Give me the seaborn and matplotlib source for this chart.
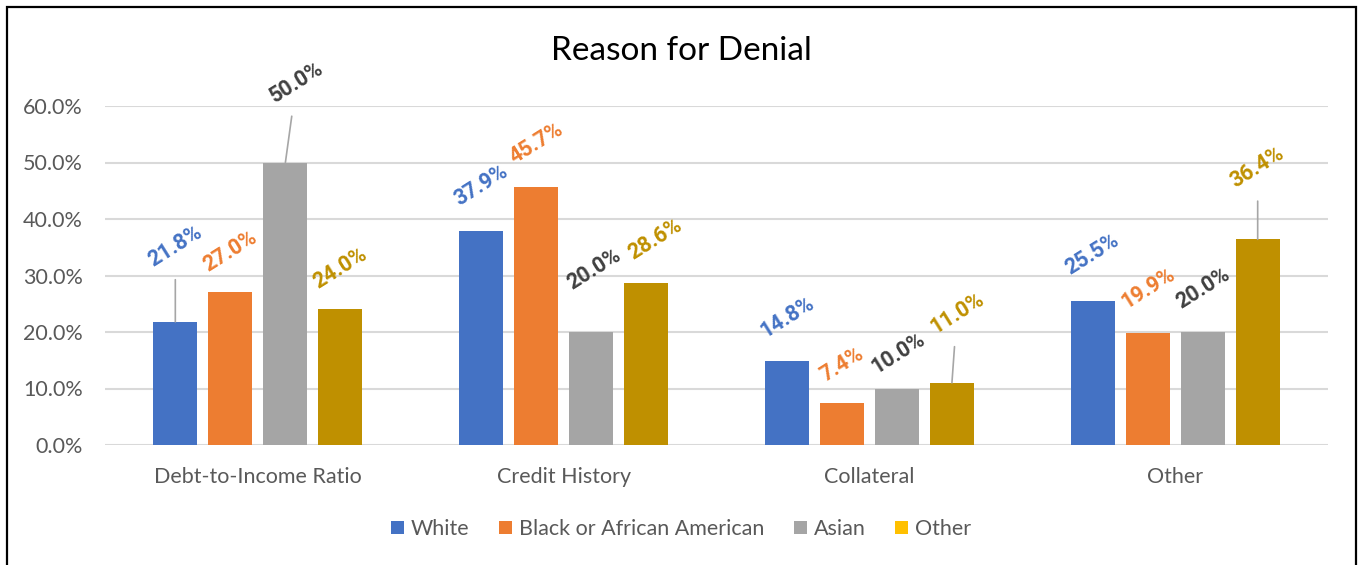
import matplotlib
matplotlib.use("Agg")
import matplotlib.pyplot as plt
from matplotlib.patches import Patch, Rectangle
from matplotlib.ticker import PercentFormatter
import seaborn as sns
import pandas as pd

# Share of denials by reason, per applicant race (percent)
reasons = ["Debt-to-Income Ratio", "Credit History", "Collateral", "Other"]
races = ["White", "Black or African American", "Asian", "Other"]
white = [21.8, 37.9, 14.8, 25.5]
black = [27.0, 45.7, 7.4, 19.9]
asian = [50.0, 20.0, 10.0, 20.0]
other = [24.0, 28.6, 11.0, 36.4]
y_ticks = [0, 10, 20, 30, 40, 50, 60]

series = [white, black, asian, other]
df = pd.DataFrame({
    "reason": [r for s in series for r in reasons],
    "race": [race for race, s in zip(races, series) for _ in s],
    "pct": [v for s in series for v in s],
})

bar_colors = ["#4472C4", "#ED7D31", "#A5A5A5", "#BF9000"]
label_colors = ["#4472C4", "#ED7D31", "#404040", "#BF9000"]
legend_colors = ["#4472C4", "#ED7D31", "#A5A5A5", "#FFC000"]

# label placement (dx, dy in pixels from the bar top) and leader-line flags
label_offsets = [
    [(0, 76), (0, 46), (0, 44), (0, 47)],
    [(0, 41), (0, 44), (0, 39), (0, 44)],
    [(11, 80), (3, 63), (1, 35), (0, 44)],
    [(0, 41), (9, 44), (5, 70), (0, 72)],
]
leaders = [
    [True, False, False, False],
    [False, False, False, False],
    [True, False, False, False],
    [False, False, True, True],
]

sns.set_theme(style="white")
plt.rcParams["font.family"] = ["Lato", "DejaVu Sans"]

fig = plt.figure(figsize=(13.62, 5.65), dpi=100)
ax = fig.add_axes([105 / 1362, 1 - 445 / 565, (1328 - 105) / 1362, (445 - 106) / 565])

sns.barplot(data=df, x="reason", y="pct", hue="race", order=reasons,
            hue_order=races, palette=bar_colors, width=0.72, gap=0.2,
            saturation=1, ax=ax, legend=False, linewidth=0)

ax.set_xlim(-0.5, len(reasons) - 0.5)
ax.set_ylim(0, 60)
ax.set_yticks(y_ticks)
ax.yaxis.set_major_formatter(PercentFormatter(decimals=1))
ax.grid(axis="y", color="#D9D9D9", linewidth=1.5)
ax.set_axisbelow(True)
for sp in ax.spines.values():
    sp.set_visible(False)
ax.set_xlabel("")
ax.set_ylabel("")
ax.tick_params(axis="y", labelsize=15.5, labelcolor="#595959", pad=16, length=0)
ax.tick_params(axis="x", labelsize=15.5, labelcolor="#595959", pad=16, length=0)

for hi, cont in enumerate(ax.containers):
    for ci, bar in enumerate(cont.patches):
        x = bar.get_x() + bar.get_width() / 2
        h = bar.get_height()
        dx, dy = label_offsets[hi][ci]
        arrow = None
        if leaders[hi][ci]:
            arrow = dict(arrowstyle="-", color="#A6A6A6", lw=1.2,
                         shrinkA=4, shrinkB=0)
        ax.annotate(f"{h:.1f}%", xy=(x, h), xytext=(dx, dy),
                    textcoords="offset pixels", ha="center", va="center",
                    rotation=32, fontsize=15.5, fontweight="bold",
                    family="Roboto",
                    color=label_colors[hi], arrowprops=arrow)

fig.text(0.5, 1 - 51 / 565, "Reason for Denial", ha="center", va="center",
         fontsize=24, color="#000000")

handles = [Patch(facecolor=c, edgecolor="none") for c in legend_colors]
fig.legend(handles, races, loc="center", bbox_to_anchor=(0.5, 1 - 529 / 565),
           ncol=4, frameon=False, fontsize=15.5, handlelength=0.6,
           handleheight=0.6, handletextpad=0.3, columnspacing=1.4,
           labelcolor="#595959")

fig.patches.append(Rectangle((7 / 1362, -0.02), (1356 - 7) / 1362, 1.02 - 7 / 565,
                             transform=fig.transFigure, fill=False,
                             edgecolor="black", linewidth=1.6))

fig.savefig("out.png", dpi=100)
